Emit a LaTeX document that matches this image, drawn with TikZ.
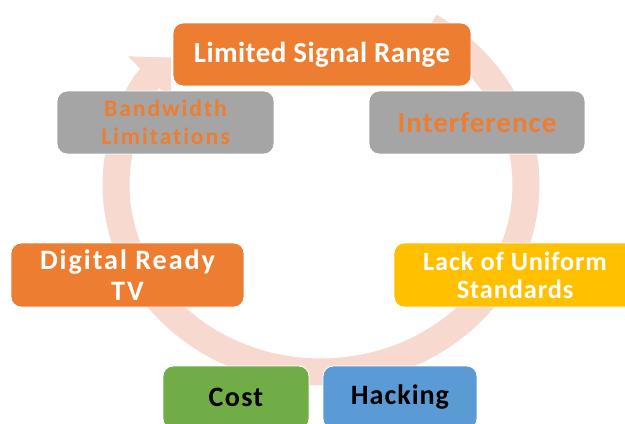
\documentclass[tikz,border=0pt]{standalone}
\usepackage{fontspec}
\setmainfont{Carlito}[Ligatures={TeX,NoCommon}]
\usetikzlibrary{arrows.meta}
\definecolor{offorange}{HTML}{ED7D31}
\definecolor{offgray}{HTML}{A5A5A5}
\definecolor{offgold}{HTML}{FFC000}
\definecolor{offgreen}{HTML}{70AD47}
\definecolor{offblue}{HTML}{5B9BD5}
\definecolor{ringpink}{RGB}{248,217,207}
\newcommand\boxfont[3]{\fontsize{#1}{#2}\selectfont\bfseries\addfontfeature{LetterSpace=#3}}

\begin{document}
\begin{tikzpicture}[x=0.02cm, y=0.02cm]
    \tikzstyle{every node}+=[inner sep=0pt]
    \tikzstyle{issue}=[rectangle, rounded corners=0.2cm, draw=white, line width=0.5pt, align=center, minimum height=1.26cm]
    \tikzstyle{ring}=[ringpink, line width=0.54cm, -{Triangle[width=1.2cm,length=0.6cm]}]
    \useasboundingbox (0,0) rectangle (625,-423);
    \draw [ring] (429.6,-26.4) arc [start angle=58, end angle=-223, x radius=4.1cm, y radius=3.74cm];
    \node [issue, fill=offorange, text=white, minimum width=5.96cm, font=\boxfont{16.5}{18}{1.5}] (range) at (322,-54.5) {Limited Signal Range};
    \node [issue, fill=offgray, text=offorange, minimum width=4.34cm, font=\boxfont{13.5}{16}{8}] (bandwidth) at (165.5,-122.5) {Bandwidth\\Limitations};
    \node [issue, fill=offgray, text=offorange, minimum width=4.32cm, font=\boxfont{16.5}{18}{3.5}] (interference) at (477,-122.5) {Interference};
    \node [issue, fill=offorange, text=white, minimum width=4.66cm, minimum height=1.28cm, font=\boxfont{16}{18}{7}] (digital) at (127.5,-275) {Digital Ready\\TV};
    \node [issue, fill=offgold, text=white, minimum width=4.84cm, minimum height=1.28cm, font=\boxfont{15}{16}{3.4}] (uniform) at (515,-275) {Lack of Uniform\\Standards};
    \node [issue, fill=offgreen, text=black, minimum width=2.92cm, font=\boxfont{16}{18}{4.6}] (cost) at (236,-397.5) {Cost};
    \node [issue, fill=offblue, text=black, minimum width=3.08cm, font=\boxfont{16}{18}{3.5}] (hacking) at (400,-397.5) {Hacking};
\end{tikzpicture}
\end{document}
